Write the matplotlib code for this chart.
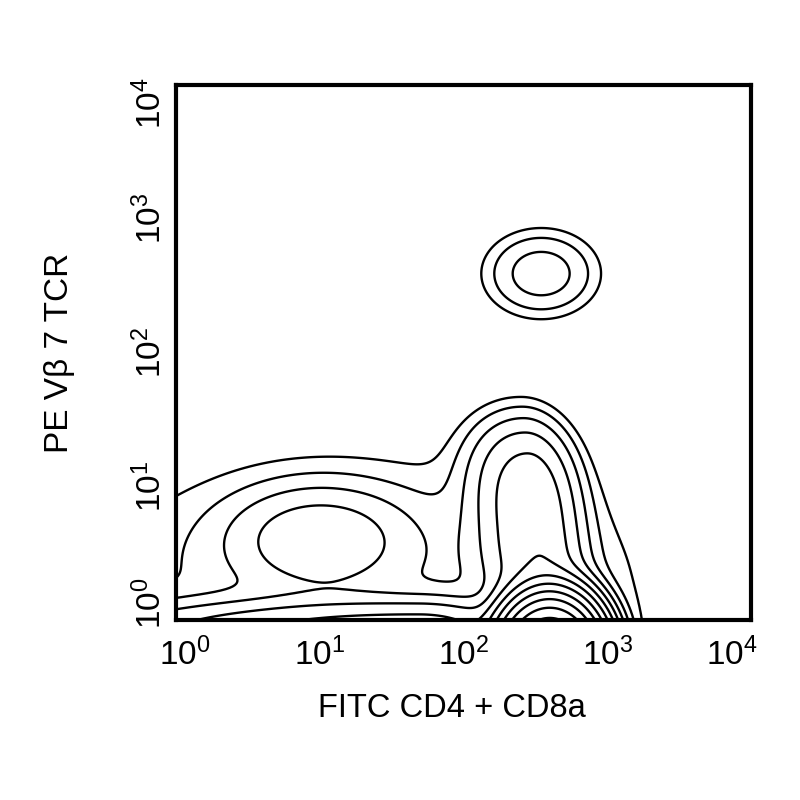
import numpy as np
import matplotlib
matplotlib.use('Agg')
import matplotlib.pyplot as plt
from matplotlib.transforms import ScaledTranslation

#fonts: arial-like text, mathtext for the 10^n labels
plt.rcParams['font.family'] = ['Liberation Sans', 'DejaVu Sans']
plt.rcParams['mathtext.fontset'] = 'custom'
plt.rcParams['mathtext.rm'] = 'Liberation Sans'

#cell populations (centre in channel units, spread in decades;
#sx_l / sx_r = spread to the left / right of the centre)
pop_names = ['CD4/CD8 high', 'ridge', 'double neg', 'bottom band', 'Vb7 pos', 'background']
pop_x = [398, 316, 10, 50, 347, 20]
pop_y = [0.5, 5.0, 4.0, 0.8, 389, 2.0]
pop_sx_l = [0.15, 0.22, 0.35, 1.1, 0.22, 1.2]
pop_sx_r = [0.15, 0.17, 0.35, 0.35, 0.22, 1.2]
pop_sy = [0.196, 0.508, 0.22, 0.134, 0.18, 0.55]
pop_shear = [0.0, -0.1, 0.0, 0.0, 0.0, 0.0]
pop_shape = [2, 3, 2, 2, 2, 2]
pop_w = [7500, 29, 12, 50, 6, 3.2]

#contour levels (relative density)
levels = [1, 2, 4, 8, 16, 32, 64, 128, 256, 512, 1024, 2048]

#axis text
x_label = 'FITC CD4 + CD8a'
y_label = 'PE V\u03b2 7 TCR'
decades = [0, 1, 2, 3, 4]

#density on a log grid
gx = np.linspace(0, 4, 400)
gy = np.linspace(0, 4, 400)
GX, GY = np.meshgrid(gx, gy)
dens = np.zeros_like(GX)
for x0, y0, sl, sr, sy, k, p, w in zip(pop_x, pop_y, pop_sx_l, pop_sx_r, pop_sy,
                                       pop_shear, pop_shape, pop_w):
    lx, ly = np.log10(x0), np.log10(y0)
    ddx = GX - lx - k * (GY - ly)
    sx = np.where(ddx < 0, sl, sr)
    dens += w * np.exp(-(ddx ** 2) / (2 * sx ** 2) - 0.5 * (np.abs(GY - ly) / sy) ** p)

fig = plt.figure(figsize=(8, 8), dpi=100)
ax = fig.add_axes([0.22, 0.225, 0.71875, 0.66875])
ax.contour(10 ** GX, 10 ** GY, dens, levels=levels, colors='black', linewidths=1.7)

ax.set_xscale('log')
ax.set_yscale('log')
ax.set_xlim(1, 1e4)
ax.set_ylim(1, 1e4)

ticks = [10 ** d for d in decades]
tick_labels = [r'$\mathregular{10^{%d}}$' % d for d in decades]
ax.set_xticks(ticks)
ax.set_xticklabels(tick_labels)
ax.set_yticks(ticks)
ax.set_yticklabels(tick_labels, rotation=90, va='center')
ax.minorticks_off()
ax.tick_params(axis='x', length=0, pad=13, labelsize=24)
ax.tick_params(axis='y', length=0, pad=6, labelsize=24)

#end labels are pulled inside like the original
xl = ax.get_xticklabels()
xl[0].set_transform(xl[0].get_transform() + ScaledTranslation(9 / 100, 0, fig.dpi_scale_trans))
xl[-1].set_transform(xl[-1].get_transform() + ScaledTranslation(-19 / 100, 0, fig.dpi_scale_trans))
yl = ax.get_yticklabels()
yl[0].set_transform(yl[0].get_transform() + ScaledTranslation(0, 17 / 100, fig.dpi_scale_trans))
yl[-1].set_transform(yl[-1].get_transform() + ScaledTranslation(0, -18 / 100, fig.dpi_scale_trans))

for s in ax.spines.values():
    s.set_linewidth(3)

ax.set_xlabel(x_label, fontsize=23.5, labelpad=15)
ax.xaxis.label.set_x(0.48)
ax.set_ylabel(y_label, fontsize=24, labelpad=42)

fig.savefig('out.png', dpi=100)
